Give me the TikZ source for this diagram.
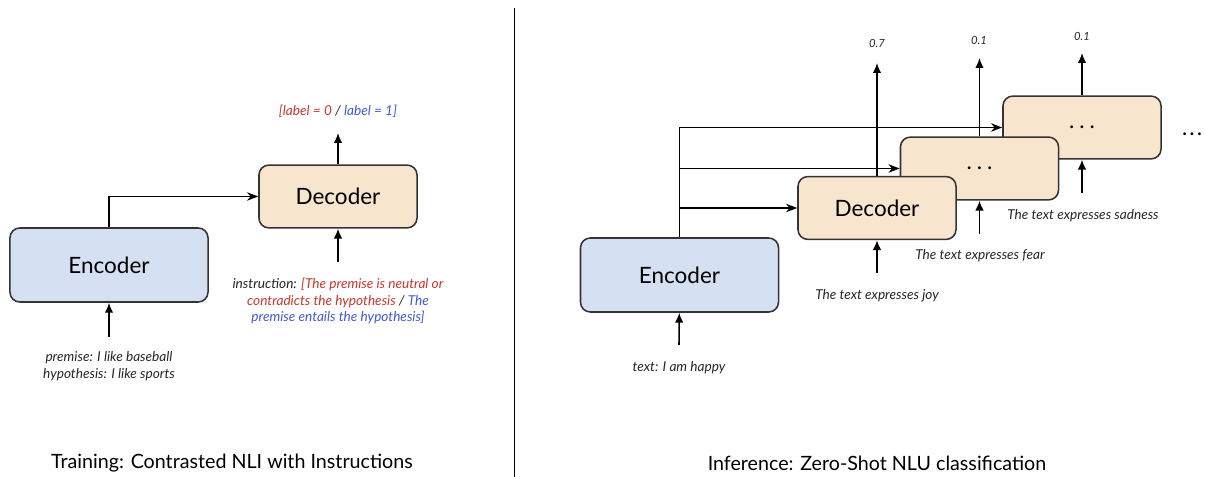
\documentclass[tikz,border=0pt]{standalone}
\usepackage{fontspec}
\setmainfont{Lato}
\usetikzlibrary{arrows.meta}
\definecolor{encblue}{RGB}{213,225,242}
\definecolor{decorange}{RGB}{248,229,206}
\definecolor{lred}{RGB}{200,55,45}
\definecolor{lblue}{RGB}{65,90,210}
\newcommand{\bdots}[1][3.5pt]{.\hspace{#1}.\hspace{#1}.}
\begin{document}
\begin{tikzpicture}[x=0.025cm, y=-0.025cm, line width=1.1pt, >={Latex[length=7pt,width=6pt]},
  enc/.style = {draw=black!80, fill=encblue, rounded corners=7pt, minimum width=4.95cm, minimum height=1.85cm, font=\fontsize{16}{19}\selectfont},
  dec/.style = {draw=black!80, fill=decorange, rounded corners=7pt, minimum width=3.95cm, minimum height=1.57cm, font=\fontsize{16}{19}\selectfont},
  lbl/.style = {font=\fontsize{9.7}{12}\selectfont\itshape, text=black!85, align=center, inner sep=1pt},
  num/.style = {font=\fontsize{8}{10}\selectfont\itshape, text=black!85, inner sep=1pt},
  title/.style = {font=\fontsize{14}{17}\selectfont}]
  \useasboundingbox (0,0) rectangle (1205,477);
  \node[enc] (1) at (109,265) {Encoder};
  \node[dec] (2) at (338,196.5) {Decoder};
  \node[lbl] (3) at (109,366.5) {premise: I like baseball\\hypothesis: I like sports};
  \node[lbl] (4) at (338,301) {instruction: \textcolor{lred}{[The premise is neutral or}\\\textcolor{lred}{contradicts the hypothesis} / \textcolor{lblue}{The}\\\textcolor{lblue}{premise entails the hypothesis]}};
  \node[lbl] (5) at (338,111) {\textcolor{lred}{[label = 0} / \textcolor{lblue}{label = 1]}};
  \coordinate (a1) at (109,337);
  \coordinate (a2) at (338,262);
  \coordinate (b2) at (338,133);
  \draw[->] (a1) -- (1);
  \draw[->] (a2) -- (2);
  \draw[->] (2) -- (b2);
  \draw[-{Stealth[length=8pt,width=6pt]}] (1.north) |- (2.west);
  \coordinate (c1) at (514,8);
  \coordinate (c2) at (514,477);
  \draw[line width=0.7pt] (c1) -- (c2);
  \node[enc] (6) at (679.5,275) {Encoder};
  \node[dec] (9) at (1082,127.5) {\bdots};
  \node[dec] (8) at (979.5,168.5) {\bdots};
  \node[dec] (7) at (877,208) {Decoder};
  \node[lbl] (10) at (679,368) {text: I am happy};
  \node[lbl] (11) at (877,296) {The text expresses joy};
  \node[lbl] (12) at (980,256) {The text expresses fear};
  \node[lbl] (13) at (1083,216) {The text expresses sadness};
  \node[num] (14) at (877,43) {0.7};
  \node[num] (15) at (979,40) {0.1};
  \node[num] (16) at (1082,36) {0.1};
  \node[font=\fontsize{16}{19}\selectfont, anchor=east, inner sep=0pt] (17) at (1203,134) {\bdots[1.5pt]};
  \coordinate (a6) at (679,345);
  \coordinate (a7) at (877,273);
  \coordinate (a8) at (979.5,234);
  \coordinate (a9) at (1082,193);
  \coordinate (b7) at (877,63);
  \coordinate (b8) at (979.5,58);
  \coordinate (b9) at (1082,53);
  \draw[->] (a6) -- (6);
  \draw[->] (a7) -- (7);
  \draw[->] (a8) -- (8);
  \draw[->] (a9) -- (9);
  \draw[->] (7) -- (b7);
  \draw[->] (8) -- (b8);
  \draw[->] (9) -- (b9);
  \draw[-{Stealth[length=8pt,width=6pt]}] (6.north) |- (7.west);
  \draw[-{Stealth[length=8pt,width=6pt]}] (6.north) |- (8.west);
  \draw[-{Stealth[length=8pt,width=6pt]}] (6.north) |- (9.west);
  \node[title] (18) at (232,463) {Training: Contrasted NLI with Instructions};
  \node[title] (19) at (877,463) {Inference: Zero-Shot NLU classification};
\end{tikzpicture}
\end{document}
